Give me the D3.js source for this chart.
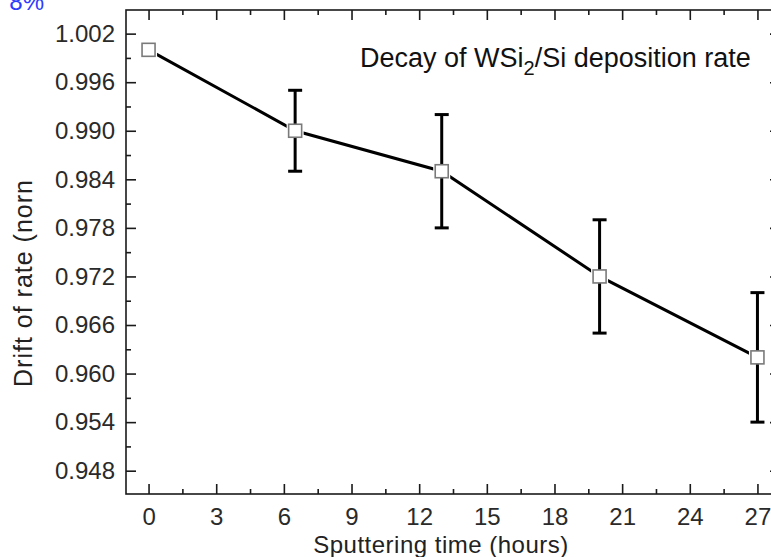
<!DOCTYPE html>
<html>
<head>
<meta charset="utf-8">
<script src="https://cdn.jsdelivr.net/npm/d3@7"></script>
<style>
  html, body { margin: 0; padding: 0; background: #fff; }
  svg { display: block; }
  text { font-family: "Liberation Sans", Arial, sans-serif; }
</style>
</head>
<body>
<svg id="chart" width="771" height="557"></svg>
<script>
// ---- data ----
const hours = [0, 6.5, 13, 20, 27];
const rate = [1.000, 0.990, 0.985, 0.972, 0.962];
const errors = [0, 0.005, 0.007, 0.007, 0.008];
const xTicks = [0, 3, 6, 9, 12, 15, 18, 21, 24, 27];
const yTicks = [0.948, 0.954, 0.960, 0.966, 0.972, 0.978, 0.984, 0.990, 0.996, 1.002];
const title = "Decay of WSi";
const xLabel = "Sputtering time (hours)";
const yLabel = "Drift of rate (norn";
const cornerText = "8%";

// ---- layout ----
const svg = d3.select("#chart");
const L = 126, R = 780, T = 10, B = 494;
const x = d3.scaleLinear().domain([-1, 28]).range([L, R]);
const y = d3.scaleLinear().domain([0.94512, 1.00492]).range([B, T]);

const xMinor = d3.range(-1.5, 28.01, 1.5).filter(v => v > -1 && v < 28 && !xTicks.includes(v));
const yMinor = d3.range(0.945, 1.005, 0.003).map(v => +v.toFixed(3)).filter(v => v > 0.94512 && v < 1.00492 && !yTicks.includes(v));

const axisColor = "#1a1a1a";
const fontSize = 24;

function styleAxis(g) {
  g.attr("font-size", fontSize).attr("font-family", "Liberation Sans, Arial, sans-serif");
  g.select(".domain").remove();
  g.selectAll(".tick line").attr("stroke", axisColor).attr("stroke-width", 1.6);
  g.selectAll(".tick text").attr("fill", "#2a2a2a");
}

// bottom
svg.append("g").attr("transform", `translate(0,${B})`)
  .call(d3.axisBottom(x).tickValues(xTicks).tickFormat(d3.format("d")).tickSizeInner(-10).tickSizeOuter(0).tickPadding(14))
  .call(styleAxis);
svg.append("g").attr("transform", `translate(0,${B})`)
  .call(d3.axisBottom(x).tickValues(xMinor).tickFormat("").tickSizeInner(-5).tickSizeOuter(0))
  .call(styleAxis);
// top
svg.append("g").attr("transform", `translate(0,${T})`)
  .call(d3.axisTop(x).tickValues(xTicks).tickFormat("").tickSizeInner(-10).tickSizeOuter(0))
  .call(styleAxis);
svg.append("g").attr("transform", `translate(0,${T})`)
  .call(d3.axisTop(x).tickValues(xMinor).tickFormat("").tickSizeInner(-5).tickSizeOuter(0))
  .call(styleAxis);
// left
svg.append("g").attr("transform", `translate(${L},0)`)
  .call(d3.axisLeft(y).tickValues(yTicks).tickFormat(d3.format(".3f")).tickSizeInner(-10).tickSizeOuter(0).tickPadding(11))
  .call(styleAxis);
svg.append("g").attr("transform", `translate(${L},0)`)
  .call(d3.axisLeft(y).tickValues(yMinor).tickFormat("").tickSizeInner(-5).tickSizeOuter(0))
  .call(styleAxis);
// right
svg.append("g").attr("transform", `translate(${R},0)`)
  .call(d3.axisRight(y).tickValues(yTicks).tickFormat("").tickSizeInner(-10).tickSizeOuter(0))
  .call(styleAxis);
svg.append("g").attr("transform", `translate(${R},0)`)
  .call(d3.axisRight(y).tickValues(yMinor).tickFormat("").tickSizeInner(-5).tickSizeOuter(0))
  .call(styleAxis);

// frame
svg.append("rect").attr("x", L).attr("y", T).attr("width", R - L).attr("height", B - T)
  .attr("fill", "none").attr("stroke", axisColor).attr("stroke-width", 1.6);

// data
const pts = hours.map((h, i) => ({ h, v: rate[i], e: errors[i] }));

svg.append("path")
  .datum(pts)
  .attr("d", d3.line().x(d => x(d.h)).y(d => y(d.v)))
  .attr("fill", "none").attr("stroke", "#000").attr("stroke-width", 3);

const ms = 13;
svg.selectAll("rect.halo").data(pts).enter().append("rect")
  .attr("class", "halo")
  .attr("x", d => x(d.h) - ms / 2 - 2).attr("y", d => y(d.v) - ms / 2 - 2)
  .attr("width", ms + 4).attr("height", ms + 4).attr("fill", "#fff");

// error bars
const eb = svg.selectAll("g.err").data(pts.filter(d => d.e > 0)).enter().append("g").attr("class", "err");
eb.append("line")
  .attr("x1", d => x(d.h)).attr("x2", d => x(d.h))
  .attr("y1", d => y(d.v + d.e)).attr("y2", d => y(d.v - d.e))
  .attr("stroke", "#000").attr("stroke-width", 3);
eb.append("line")
  .attr("x1", d => x(d.h) - 7).attr("x2", d => x(d.h) + 7)
  .attr("y1", d => y(d.v + d.e)).attr("y2", d => y(d.v + d.e))
  .attr("stroke", "#000").attr("stroke-width", 3);
eb.append("line")
  .attr("x1", d => x(d.h) - 7).attr("x2", d => x(d.h) + 7)
  .attr("y1", d => y(d.v - d.e)).attr("y2", d => y(d.v - d.e))
  .attr("stroke", "#000").attr("stroke-width", 3);

// markers
svg.selectAll("rect.mk").data(pts).enter().append("rect")
  .attr("class", "mk")
  .attr("x", d => x(d.h) - ms / 2).attr("y", d => y(d.v) - ms / 2)
  .attr("width", ms).attr("height", ms)
  .attr("fill", "#fff").attr("stroke", "#7a7a7a").attr("stroke-width", 1.6);

// title
const t = svg.append("text").attr("x", 360).attr("y", 67).attr("font-size", 27).attr("fill", "#111");
t.append("tspan").text(title);
t.append("tspan").attr("font-size", 20).attr("dy", 8).text("2");
t.append("tspan").attr("dy", -8).text("/Si deposition rate");

// axis labels
svg.append("text").attr("x", 441).attr("y", 553).attr("text-anchor", "middle")
  .attr("font-size", 24).attr("letter-spacing", 0.5).attr("fill", "#222").text(xLabel);
svg.append("text").attr("transform", "translate(32,283) rotate(-90)").attr("text-anchor", "middle")
  .attr("font-size", 25).attr("letter-spacing", 1).attr("fill", "#222").text(yLabel);

// corner fragment (cut off at the top edge, as in the reference)
svg.append("text").attr("x", 44).attr("y", 10).attr("text-anchor", "end")
  .attr("font-size", 24).attr("fill", "#2b3cff").text(cornerText);
</script>
</body>
</html>
